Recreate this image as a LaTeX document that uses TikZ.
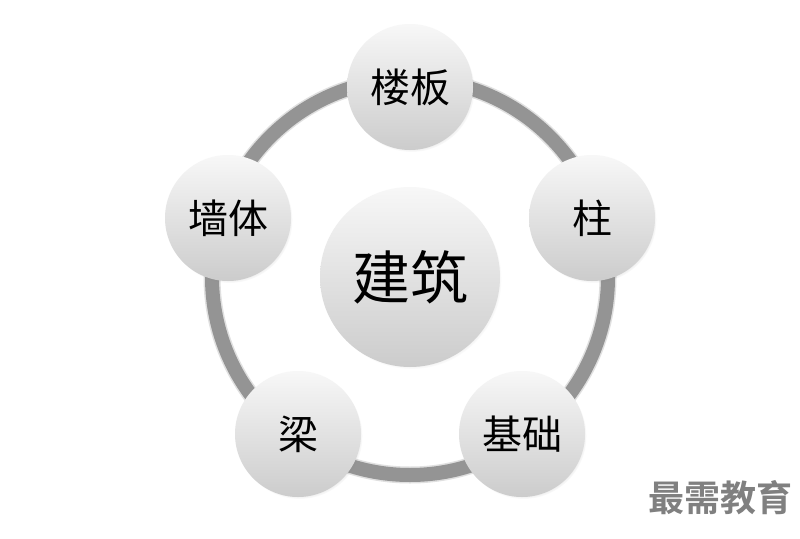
\documentclass[tikz,border=0pt]{standalone}
\usepackage{fontspec}
\newfontfamily\cjk{Noto Sans CJK SC}
\newfontfamily\cjkbold{Noto Sans CJK SC Bold}
\usetikzlibrary{shadows}
\begin{document}
\begin{tikzpicture}[x=1pt,y=-1pt,
  ball/.style={circle, minimum size=#1, inner sep=0pt, font=\cjk\fontsize{40}{40}\selectfont,
    top color=white!97!black, bottom color=white!80!black, shading angle=0,
    circular drop shadow={shadow xshift=1.5pt, shadow yshift=-2pt, opacity=0.35, shadow scale=1.0}},
  ball/.default=126pt,
  ring/.style={draw=black!42, line width=14pt}]
\useasboundingbox (0,0) rectangle (800,538);
\fill[white] (0,0) rectangle (800,538);
\coordinate (c) at (410,277);
\draw[black!12, line width=17pt] (c) circle[radius=198];
\draw[ring] (c) circle[radius=198];
\node[ball=180pt, font=\cjk\fontsize{58}{58}\selectfont] (center) at (c) {建筑};
\node[ball] (lb) at (410,87) {楼板};
\node[ball] (zhu) at (592,218) {柱};
\node[ball] (jc) at (522,434) {基础};
\node[ball] (liang) at (298,434) {梁};
\node[ball] (qt) at (228,218) {墙体};
\node[font=\cjkbold\fontsize{36}{36}\selectfont, text=black!50, anchor=center] (wm) at (720,498) {最需教育};
\end{tikzpicture}
\end{document}
